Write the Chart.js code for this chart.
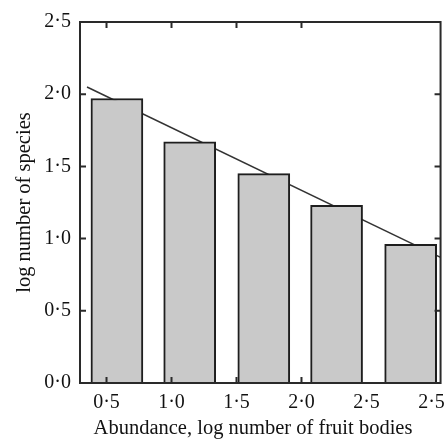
<!DOCTYPE html>
<html>
<head>
<meta charset="utf-8">
<script src="https://cdn.jsdelivr.net/npm/chart.js@4"></script>
<style>
  html, body { margin: 0; padding: 0; background: #fff; }
  #wrap { width: 448px; height: 443px; }
</style>
</head>
<body>
<div id="wrap"><canvas id="myChart" width="448" height="443"></canvas></div>
<script>
// abundance classes: bar centres on the abundance axis and log number of species
var barX = [0.58, 1.14, 1.71, 2.27, 2.84];
var speciesLog = [1.97, 1.67, 1.45, 1.23, 0.96];

// x axis ticks as printed (the last label repeats in the original figure)
var xTickValues = [0.5, 1.0, 1.5, 2.0, 2.5, 3.0];
var xTickLabels = ['0·5', '1·0', '1·5', '2·0', '2·5', '2·5'];
var xTickMarks = [0.5, 1.0, 1.5, 2.0];

var yTickValues = [0, 0.5, 1.0, 1.5, 2.0, 2.5];
var yTickLabels = ['0·0', '0·5', '1·0', '1·5', '2·0', '2·5'];

// fitted line end points
var trendX = [0.35, 3.07];
var trendY = [2.05, 0.87];

var frameRight = 3.07;
var serif = { family: "'Liberation Serif', 'Times New Roman', serif", size: 20 };
var serifTitle = { family: "'Liberation Serif', 'Times New Roman', serif", size: 20.5 };

// box round the plot plus the small inward ticks
var frameAndTicks = {
  id: 'frameAndTicks',
  afterDatasetsDraw: function(chart) {
    var ctx = chart.ctx;
    var xs = chart.scales.x, ys = chart.scales.y;
    var left = chart.chartArea.left;
    var right = xs.getPixelForValue(frameRight);
    var top = ys.getPixelForValue(2.5), bottom = ys.getPixelForValue(0);
    ctx.save();
    ctx.strokeStyle = '#2a2a2a';
    ctx.lineWidth = 2;
    ctx.strokeRect(left, top, right - left, bottom - top);
    ctx.beginPath();
    xTickMarks.forEach(function(v) {
      var px = xs.getPixelForValue(v);
      ctx.moveTo(px, bottom); ctx.lineTo(px, bottom - 6);
      ctx.moveTo(px, top); ctx.lineTo(px, top + 6);
    });
    yTickValues.slice(1, 5).forEach(function(v) {
      var py = ys.getPixelForValue(v);
      ctx.moveTo(left, py); ctx.lineTo(left + 6, py);
      ctx.moveTo(right, py); ctx.lineTo(right - 6, py);
    });
    ctx.stroke();
    ctx.restore();
  }
};

var ctx = document.getElementById('myChart').getContext('2d');
var myChart = new Chart(ctx, {
  type: 'bar',
  data: {
    datasets: [{
      type: 'bar',
      data: barX.map(function(x, i) { return { x: x, y: speciesLog[i] }; }),
      backgroundColor: '#c9c9c9',
      borderColor: '#1e1e1e',
      borderWidth: 2,
      barThickness: 52,
      clip: false,
      order: 1
    }, {
      type: 'line',
      data: trendX.map(function(x, i) { return { x: x, y: trendY[i] }; }),
      borderColor: '#333',
      borderWidth: 1.5,
      pointRadius: 0,
      fill: false,
      clip: false,
      order: 2
    }]
  },
  options: {
    responsive: false,
    animation: false,
    layout: { padding: { left: 12, top: 22, right: 22, bottom: 2 } },
    plugins: { legend: { display: false }, tooltip: { enabled: false } },
    scales: {
      x: {
        type: 'linear',
        position: 'bottom',
        offset: false,
        min: 0.296,
        max: 2.958,
        grid: { display: false, drawTicks: false },
        border: { display: false },
        afterBuildTicks: function(scale) {
          scale.ticks = xTickValues.map(function(v) { return { value: v }; });
        },
        afterFit: function(scale) {
          scale.height = 58;
          scale.paddingLeft = 0;
          scale.paddingRight = 0;
        },
        ticks: {
          autoSkip: false,
          maxRotation: 0,
          padding: 8,
          color: '#111',
          font: serif,
          callback: function(value, index) { return xTickLabels[index]; }
        },
        title: {
          display: true,
          text: 'Abundance, log number of fruit bodies',
          color: '#111',
          font: serifTitle,
          padding: { top: 2, bottom: 0 }
        }
      },
      y: {
        min: 0,
        max: 2.5,
        grid: { display: false, drawTicks: false },
        border: { display: false },
        afterBuildTicks: function(scale) {
          scale.ticks = yTickValues.map(function(v) { return { value: v }; });
        },
        afterFit: function(scale) {
          scale.width = 68;
        },
        ticks: {
          padding: 9,
          color: '#111',
          font: serif,
          callback: function(value, index) { return yTickLabels[index]; }
        },
        title: {
          display: true,
          text: 'log number of species',
          color: '#111',
          font: serifTitle,
          padding: { top: 0, bottom: 9 }
        }
      }
    }
  },
  plugins: [frameAndTicks]
});
</script>
</body>
</html>
